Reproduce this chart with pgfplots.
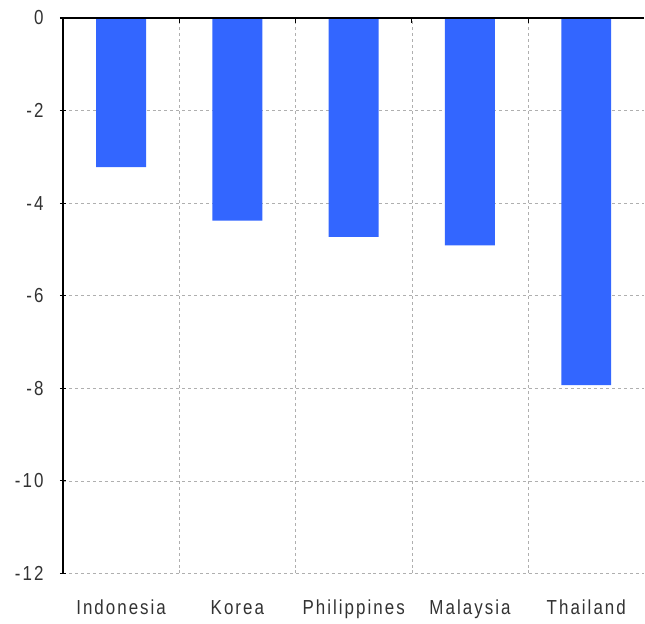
\documentclass[border=0pt]{standalone}
\usepackage{fontspec}
\setmainfont{Liberation Sans}
\usepackage{graphicx}
\usepackage{pgfplots}
\pgfplotsset{compat=1.18}
\definecolor{barblue}{RGB}{51,102,255}
\definecolor{gridgray}{RGB}{175,175,175}
\definecolor{labgray}{RGB}{50,50,50}
\newcommand{\labfont}{\fontsize{17}{20}\selectfont\addfontfeature{LetterSpace=12}}
\newcommand{\st}[1]{\scalebox{1}[1.2]{#1}}
\begin{document}
\begin{tikzpicture}
\begin{axis}[
  scale only axis,
  width=582bp, height=556bp,
  xmin=-0.5, xmax=4.5, ymin=-12, ymax=0,
  axis y line=left,
  y axis line style={-, black, line width=1.2pt},
  x axis line style={draw=none},
  xtick={0,1,2,3,4},
  xticklabels={\st{Indonesia},\st{Korea},\st{Philippines},\st{Malaysia},\st{Thailand}},
  major x tick style={draw=none},
  minor xtick={0.5,1.5,2.5,3.5},
  minor x tick style={black, line width=1pt},
  minor tick length=5bp,
  xminorgrids=true,
  minor x grid style={gridgray, dashed, line width=0.6pt},
  xtick pos=upper,
  xticklabel pos=lower,
  x tick label style={anchor=base, yshift=-41bp, font=\labfont, text=labgray},
  ytick={-12,-10,-8,-6,-4,-2,0},
  yticklabel={\st{\pgfmathprintnumber{\tick}}},
  ymajorgrids=true,
  major y grid style={gridgray, dashed, line width=0.6pt},
  y tick style={black, line width=1.2pt},
  major tick length=6bp,
  y tick label style={xshift=-13bp, font=\labfont, text=labgray},
  /pgf/number format/assume math mode=true,
  clip=false,
]
\addplot[ybar, bar width=50bp, fill=barblue, draw=none] coordinates {
  (0,-3.22) (1,-4.38) (2,-4.73) (3,-4.91) (4,-7.93)
};
\draw[black, line width=1.2pt] (axis cs:-0.5,0) -- (axis cs:4.5,0);
\end{axis}
\path (current axis.south west) +(-63bp,-50bp) (current axis.north east) +(0,18bp);
\end{tikzpicture}
\end{document}
